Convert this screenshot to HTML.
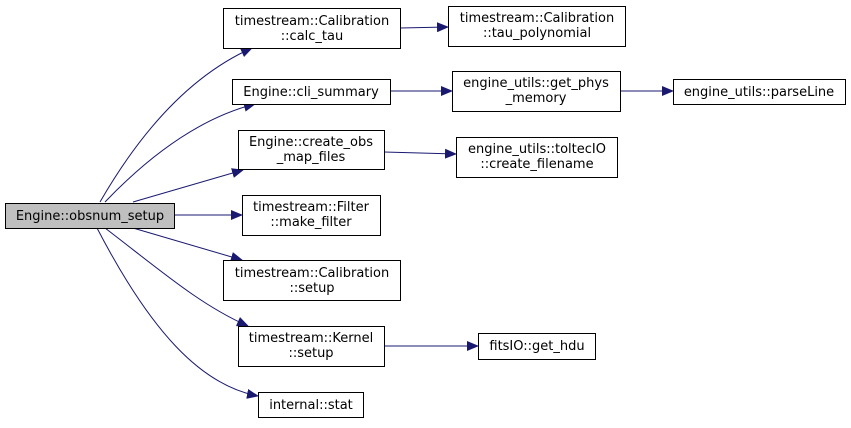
<!DOCTYPE html>
<html><head><meta charset="utf-8"><style>
body{margin:0;background:#fff;width:851px;height:423px;overflow:hidden}
text{font-family:"DejaVu Sans","Liberation Sans",sans-serif;font-size:13px;fill:#000}
</style></head><body>
<svg width="851" height="423" viewBox="0 0 851 423" xmlns="http://www.w3.org/2000/svg">
<defs><marker id="a" markerWidth="12" markerHeight="10" refX="11" refY="5" orient="auto" markerUnits="userSpaceOnUse"><path d="M0,0 L12,5 L0,10 Z" fill="#191970"/></marker></defs>
<g fill="none" stroke="#191970" stroke-width="1" marker-end="url(#a)">
<path d="M100,202 C130,150 180,80 252,48"/>
<path d="M105,202 C150,155 200,118 255,104"/>
<path d="M133,202 L243,170"/>
<path d="M174,215 L242,215"/>
<path d="M133,228 L242,260"/>
<path d="M105,228 C160,270 200,305 248,326"/>
<path d="M97,228 C150,330 200,385 258,396"/>
<path d="M400,28 L448,27"/>
<path d="M390,91 L452,91"/>
<path d="M620,91 L673,91"/>
<path d="M384,152 L456,154"/>
<path d="M384,346 L478,346"/>
</g>
<g stroke="#000" stroke-width="1" fill="#fff">
<rect x="5.5" y="203.5" width="169" height="25" fill="#bfbfbf"/>
<rect x="223.5" y="8.5" width="177" height="40"/>
<rect x="232.5" y="79.5" width="158" height="25"/>
<rect x="238.5" y="130.5" width="146" height="39"/>
<rect x="242.5" y="195.5" width="138" height="40"/>
<rect x="223.5" y="260.5" width="177" height="40"/>
<rect x="238.5" y="326.5" width="146" height="40"/>
<rect x="258.5" y="392.5" width="105" height="25"/>
<rect x="448.5" y="6.5" width="177" height="40"/>
<rect x="452.5" y="71.5" width="168" height="40"/>
<rect x="673.5" y="79.5" width="172" height="25"/>
<rect x="456.5" y="137.5" width="161" height="40"/>
<rect x="478.5" y="333.5" width="117" height="26"/>
</g>
<g text-anchor="middle">
<text x="90" y="220">Engine::obsnum_setup</text>
<text x="312" y="25">timestream::Calibration</text><text x="312" y="40">::calc_tau</text>
<text x="311" y="96">Engine::cli_summary</text>
<text x="311" y="146">Engine::create_obs</text><text x="311" y="161">_map_files</text>
<text x="311" y="211">timestream::Filter</text><text x="311" y="226">::make_filter</text>
<text x="312" y="277">timestream::Calibration</text><text x="312" y="292">::setup</text>
<text x="311" y="342">timestream::Kernel</text><text x="311" y="357">::setup</text>
<text x="311" y="409">internal::stat</text>
<text x="537" y="22">timestream::Calibration</text><text x="537" y="37">::tau_polynomial</text>
<text x="536" y="87">engine_utils::get_phys</text><text x="536" y="102">_memory</text>
<text x="759" y="96">engine_utils::parseLine</text>
<text x="537" y="153">engine_utils::toltecIO</text><text x="537" y="168">::create_filename</text>
<text x="537" y="350">fitsIO::get_hdu</text>
</g>
</svg>
</body></html>
